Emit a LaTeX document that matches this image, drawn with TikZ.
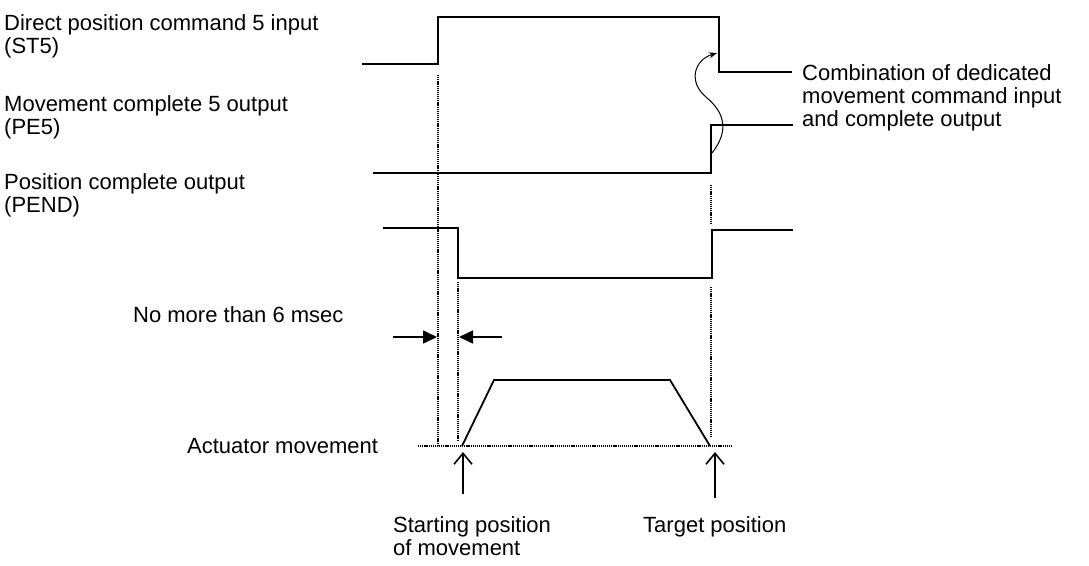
\documentclass[tikz,border=0pt]{standalone}
\usepackage{fontspec}
\setmainfont{Liberation Sans}
\usetikzlibrary{arrows.meta}
\begin{document}
\begin{tikzpicture}[x=1pt,y=-1pt,
  sig/.style={line width=2.6pt, line join=miter},
  dots/.style={line width=1.6pt, dash pattern=on 1.2pt off 0.9pt},
  prof/.style={line width=1.8pt, line join=miter},
  lbl/.style={anchor=base west, inner sep=0pt, font=\fontsize{22}{23}\selectfont},
  fillarr/.style={line width=1.6pt, -{Triangle[length=14pt,width=13pt]}},
  openarr/.style={line width=1.6pt, -{Straight Barb[length=11pt,width=18pt,line width=1.6pt]}},
  curarr/.style={line width=1pt, -{Stealth[length=8pt,width=6pt]}}]
\useasboundingbox (0,0) rectangle (1089,565);
% labels
\node[lbl] (lst5a) at (4,30) {Direct position command 5 input};
\node[lbl] (lst5b) at (4,53) {(ST5)};
\node[lbl] (lpe5a) at (4,111) {Movement complete 5 output};
\node[lbl] (lpe5b) at (4,134) {(PE5)};
\node[lbl] (lpenda) at (4,189) {Position complete output};
\node[lbl] (lpendb) at (4,212) {(PEND)};
\node[lbl] (lmsec) at (133,322) {No more than 6 msec};
\node[lbl] (lact) at (187,453) {Actuator movement};
\node[lbl] (lstart1) at (393,532) {Starting position};
\node[lbl] (lstart2) at (393,555) {of movement};
\node[lbl] (ltarget) at (643,532) {Target position};
\node[lbl] (lcomb1) at (802,80) {Combination of dedicated};
\node[lbl] (lcomb2) at (802,103) {movement command input};
\node[lbl] (lcomb3) at (802,126) {and complete output};
% coordinates
\coordinate (t1) at (438,17);
\coordinate (t2) at (719,17);
\coordinate (pe) at (711,125);
\coordinate (pd1) at (458,278);
\coordinate (pd2) at (712,230);
% signals
\draw[sig] (362,64) -- (438,64) -- (t1) -- (t2) -- (719,72) -- (792,72);
\draw[sig] (373,173) -- (711,173) -- (pe) -- (793,125);
\draw[sig] (383,228) -- (458,228) -- (pd1) -- (712,278) -- (pd2) -- (793,230);
% dotted guides
\draw[dots] (438,75) -- (438,446);
\draw[dots] (458,282) -- (458,440);
\draw[dots] (711,185) -- (711,223);
\draw[dots] (711,287) -- (711,437);
\draw[dots] (418,446) -- (732,446);
% motion profile
\coordinate (m0) at (462,446);
\coordinate (m3) at (710,446);
\draw[prof] (m0) -- (494,380) -- (670,380) -- (m3);
% 6 msec arrows
\coordinate (a1s) at (393,337);
\coordinate (a1e) at (437,337);
\coordinate (a2s) at (502,337);
\coordinate (a2e) at (459,337);
\draw[fillarr] (a1s) -- (a1e);
\draw[fillarr] (a2s) -- (a2e);
% up arrows
\coordinate (u1s) at (463,494);
\coordinate (u1e) at (463,452);
\coordinate (u2s) at (715,498);
\coordinate (u2e) at (715,452);
\draw[openarr] (u1s) -- (u1e);
\draw[openarr] (u2s) -- (u2e);
% curved arrow
\coordinate (c0) at (712,153);
\coordinate (cm) at (706,97);
\coordinate (c1) at (717,53);
\draw[curarr] (c0) .. controls (730,130) and (724,112) .. (cm)
  .. controls (688,82) and (694,60) .. (c1);
\end{tikzpicture}
\end{document}
